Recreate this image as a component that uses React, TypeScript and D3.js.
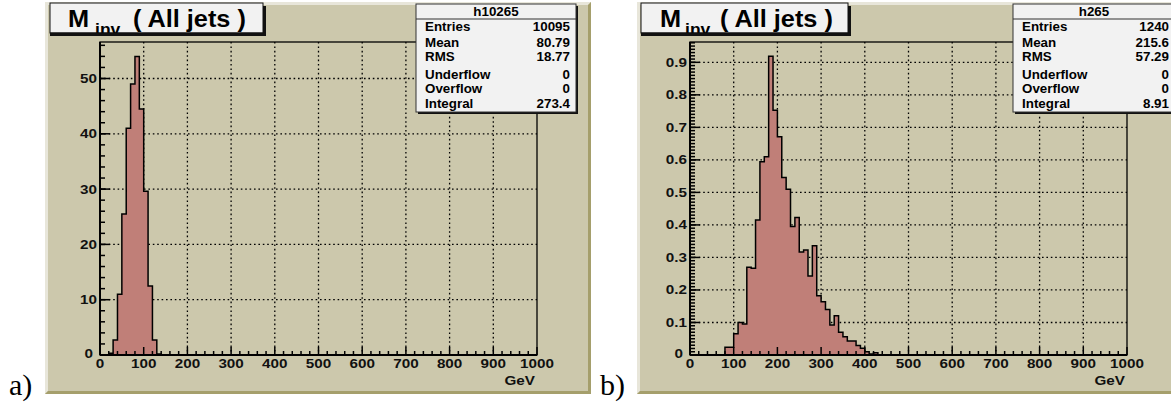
import * as d3 from "d3";

// bin contents, 10 GeV bins, starting at the given lower edge
const binWidth = 10;
const leftStart = 20;
const leftValues = [0.3, 2.7, 11, 25.5, 41, 49, 54, 44.5, 29.6, 12.5, 2.7, 0.2];
const rightStart = 80;
const rightValues = [
  0.024, 0.024, 0.065, 0.1, 0.095, 0.27, 0.267, 0.415, 0.594, 0.61,
  0.919, 0.753, 0.671, 0.546, 0.51, 0.395, 0.423, 0.317, 0.323, 0.243,
  0.336, 0.182, 0.164, 0.14, 0.092, 0.121, 0.07, 0.056, 0.043, 0.043,
  0.029, 0.021, 0.01, 0.003, 0.007,
];

const xTicks = [0, 100, 200, 300, 400, 500, 600, 700, 800, 900, 1000];
const leftYTicks = [0, 10, 20, 30, 40, 50];
const rightYTicks = [0, 0.1, 0.2, 0.3, 0.4, 0.5, 0.6, 0.7, 0.8, 0.9];

const statLabels = ["Entries", "Mean", "RMS", "Underflow", "Overflow", "Integral"];
const leftStats = ["10095", "80.79", "18.77", "0", "0", "273.4"];
const rightStats = ["1240", "215.6", "57.29", "0", "0", "8.91"];

const bg = "#ccc8ac";
const light = "#e8e6da";
const dark = "#a59f6c";
const fillCol = "#c07f78";
const font = "'Liberation Sans', Arial, Helvetica, sans-serif";

// the original picture is stretched sideways, so text gets an x scale
function T({ x, y, sx = 1.22, size, anchor = "start", children }) {
  return (
    <text transform={`translate(${x},${y}) scale(${sx},1)`} fontSize={size} textAnchor={anchor}>
      {children}
    </text>
  );
}

function Panel({ fx0, fx1, plot, ymax, yTicks, yMinor, yFmt, values, start, name, stats, titleBox, titleX, statBox, label, labelX }) {
  const [pl, pt, pr, pb] = plot;
  const x = d3.scaleLinear().domain([0, 1000]).range([pl, pr]);
  const y = d3.scaleLinear().domain([0, ymax]).range([pb, pt]);

  const pts = [{ e: start, v: 0 }, ...values.map((v, i) => ({ e: start + i * binWidth, v })), { e: start + values.length * binWidth, v: 0 }];
  const area = d3.area().x(d => x(d.e)).y0(y(0)).y1(d => y(d.v)).curve(d3.curveStepAfter);
  const line = d3.line().x(d => x(d.e)).y(d => y(d.v)).curve(d3.curveStepAfter);

  const xMinor = d3.range(0, 1001, 20);
  const yMinorTicks = d3.range(0, ymax, yMinor);

  const fy0 = 2, fy1 = 394, bw = 3;
  const [tx0, ty0, tx1, ty1] = titleBox;
  const [sx0, sy0, sx1, sy1] = statBox;
  const rowY = [31, 47, 61, 79, 93, 108];

  return (
    <g>
      {/* pad with bevelled border */}
      <rect x={fx0} y={fy0} width={fx1 - fx0} height={fy1 - fy0} fill={bg} />
      <polygon points={`${fx0},${fy0} ${fx1},${fy0} ${fx1 - bw},${fy0 + bw} ${fx0 + bw},${fy0 + bw} ${fx0 + bw},${fy1 - bw} ${fx0},${fy1}`} fill={light} />
      <polygon points={`${fx1},${fy0} ${fx1},${fy1} ${fx0},${fy1} ${fx0 + bw},${fy1 - bw} ${fx1 - bw},${fy1 - bw} ${fx1 - bw},${fy0 + bw}`} fill={dark} />

      {/* grid */}
      <g stroke="#000" strokeWidth={1.3} strokeDasharray="1.6,2.8">
        {xTicks.filter(t => t > 0 && t < 1000).map(t => (
          <line key={"gx" + t} x1={x(t)} x2={x(t)} y1={pt} y2={pb} />
        ))}
        {yTicks.filter(t => t > 0).map(t => (
          <line key={"gy" + t} x1={pl} x2={pr} y1={y(t)} y2={y(t)} />
        ))}
      </g>

      {/* histogram */}
      <path d={area(pts)} fill={fillCol} />
      <path d={line(pts)} fill="none" stroke="#000" strokeWidth={1.5} />

      {/* frame and ticks */}
      <rect x={pl} y={pt} width={pr - pl} height={pb - pt} fill="none" stroke="#000" strokeWidth={1.3} />
      <line x1={pl} x2={pl} y1={pt} y2={pb} stroke="#000" strokeWidth={2} />
      <line x1={pl} x2={pr} y1={pb} y2={pb} stroke="#000" strokeWidth={2} />
      <g stroke="#000" strokeWidth={1.5}>
        {xMinor.map(t => (
          <line key={"tx" + t} x1={x(t)} x2={x(t)} y1={pb} y2={pb - (t % 100 === 0 ? 8 : 4)} />
        ))}
        {yMinorTicks.map((t, i) => (
          <line key={"ty" + i} x1={pl} x2={pl + 5} y1={y(t)} y2={y(t)} />
        ))}
        {yTicks.map(t => (
          <line key={"tY" + t} x1={pl} x2={pl + 10} y1={y(t)} y2={y(t)} />
        ))}
      </g>
      <g fontFamily={font} fontWeight="bold" fill="#111">
        {xTicks.map(t => (
          <T key={"lx" + t} x={x(t)} y={pb + 13} size={12.5} anchor="middle">{t}</T>
        ))}
        {yTicks.map(t => (
          <T key={"ly" + t} x={pl - 3 - (t === 0 ? 4 : 0)} y={y(t) + 4.5 - (t === 0 ? 2 : 0)} size={12.5} anchor="end">{yFmt(t)}</T>
        ))}
        <T x={pr - 2} y={385} size={12.5} anchor="end">GeV</T>
      </g>

      {/* title box */}
      <rect x={tx0 + 3} y={ty0 + 3} width={tx1 - tx0} height={ty1 - ty0} fill="#111" />
      <rect x={tx0} y={ty0} width={tx1 - tx0} height={ty1 - ty0} fill="#f2f2f2" stroke="#111" strokeWidth={1} />
      <g fontFamily={font} fontWeight="bold" fill="#000">
        <T x={titleX[0]} y={26.5} size={23} sx={1.1}>M</T>
        <T x={titleX[1]} y={34.5} size={16} sx={1.1}>inv</T>
        <T x={titleX[2]} y={26.5} size={23} sx={1.1}>( All jets )</T>
      </g>
      <rect x={tx0} y={ty1 - 0.5} width={tx1 - tx0 + 3} height={3.5} fill="#111" />

      {/* stats box */}
      <rect x={sx0 + 2} y={sy0 + 2} width={sx1 - sx0} height={sy1 - sy0} fill="#111" />
      <rect x={sx0} y={sy0} width={sx1 - sx0} height={sy1 - sy0} fill="#f2f2f2" stroke="#333" strokeWidth={1} />
      <line x1={sx0} x2={sx1} y1={sy0 + 15} y2={sy0 + 15} stroke="#333" strokeWidth={1} />
      <g fontFamily={font} fontWeight="bold" fill="#000">
        <T x={(sx0 + sx1) / 2} y={sy0 + 12} size={12.5} sx={1.07} anchor="middle">{name}</T>
        {statLabels.map((s, i) => (
          <T key={s} x={sx0 + 9} y={rowY[i]} size={12.5} sx={1.07}>{s}</T>
        ))}
        {stats.map((s, i) => (
          <T key={"v" + i} x={sx1 - 6} y={rowY[i]} size={12.5} sx={1.07} anchor="end">{s}</T>
        ))}
      </g>

      <text x={labelX} y={395} fontFamily="'Liberation Serif', 'DejaVu Serif', serif" fontSize={30} fill="#000">{label}</text>
    </g>
  );
}

export default function App() {
  return (
    <svg width={1171} height={404} style={{ position: "absolute", left: 0, top: 0, background: "#fff" }}>
      <Panel
        fx0={45} fx1={591} plot={[100, 42, 537, 355]} ymax={56.6}
        yTicks={leftYTicks} yMinor={2} yFmt={d => d}
        values={leftValues} start={leftStart} name="h10265" stats={leftStats}
        titleBox={[50, 3, 263, 33]} titleX={[68, 95, 133]}
        statBox={[416, 4, 576, 112]} label="a)" labelX={9}
      />
      <Panel
        fx0={637} fx1={1183} plot={[690, 42, 1127, 355]} ymax={0.9625}
        yTicks={rightYTicks} yMinor={0.01} yFmt={d => (d === 0 ? "0" : d.toFixed(1))}
        values={rightValues} start={rightStart} name="h265" stats={rightStats}
        titleBox={[641, 3, 848, 33]} titleX={[660, 685, 720]}
        statBox={[1013, 4, 1175, 112]} label="b)" labelX={600}
      />
    </svg>
  );
}
